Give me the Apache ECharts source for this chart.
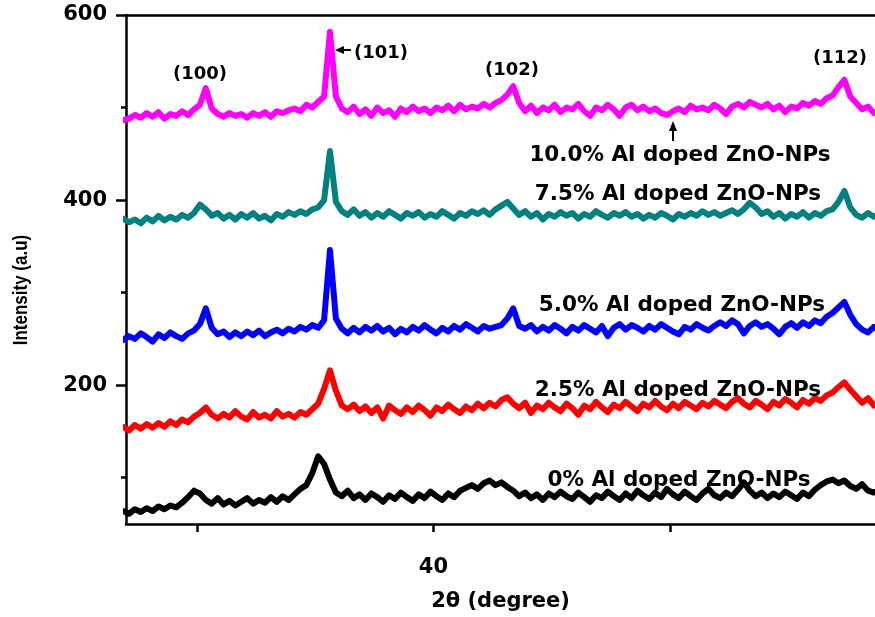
<!DOCTYPE html>
<html>
<head>
<meta charset="utf-8">
<script src="https://cdn.jsdelivr.net/npm/echarts@6/dist/echarts.min.js"></script>
<style>html,body{margin:0;padding:0;background:#fff}#c{width:875px;height:617px}</style>
</head>
<body>
<div id="c"></div>
<script>
// 2θ values (degree), step 0.25
const twoTheta = [];
for (let k = 0; k <= 128; k++) twoTheta.push(26.875 + 0.25 * k);

const seriesNames = ['10.0% Al doped ZnO-NPs','7.5% Al doped ZnO-NPs','5.0% Al doped ZnO-NPs','2.5% Al doped ZnO-NPs','0% Al doped ZnO-NPs'];
const seriesColors = ['#ff00ff','#008080','#0000ff','#ff0000','#000000'];

const al100 = [486,488,492,489,494,490,495,488,493,491,496,492,498,503,521,499,493,490,494,491,
493,489,494,491,495,490,496,494,497,499,496,503,500,506,512,582,512,499,495,501,
493,498,491,500,494,497,490,499,495,501,496,499,494,500,497,502,496,503,498,501,
499,504,500,505,508,514,523,505,496,502,494,500,497,503,495,500,498,504,496,491,
500,497,503,498,491,500,503,497,501,496,499,494,492,496,499,495,502,498,500,497,
503,499,493,501,504,500,506,503,500,504,498,502,495,501,499,505,502,507,504,510,
513,522,530,512,505,498,501,494,497];

const al75 = [380,376,379,375,381,377,383,378,382,379,384,381,386,395,390,383,386,380,384,379,
385,381,386,380,383,378,385,382,387,384,388,385,390,392,400,453,398,388,384,390,
383,387,381,386,382,388,384,380,386,383,387,381,385,382,388,384,380,386,383,388,
385,389,384,390,394,398,391,384,388,382,386,379,385,382,387,383,386,380,385,382,
388,384,381,386,383,387,382,385,380,384,381,386,383,379,385,382,386,383,388,384,
387,383,386,389,385,390,397,392,385,388,382,386,380,385,382,387,381,386,383,388,
390,398,410,392,384,381,386,382,385];

const al50 = [249,253,250,256,252,247,255,251,257,253,250,256,259,266,283,262,255,258,252,257,
253,258,254,259,253,257,260,256,261,258,263,260,265,262,270,346,272,261,256,262,
257,263,259,264,258,262,255,261,257,263,259,265,260,256,262,258,264,260,266,262,
258,264,261,263,265,272,283,264,261,265,258,263,259,265,261,256,263,259,265,261,
257,264,253,262,266,260,265,262,258,264,260,266,262,258,255,263,260,266,262,259,
264,268,264,270,266,256,264,268,263,266,261,255,263,267,262,268,264,270,267,274,
278,284,290,276,266,260,257,263,259];

const al25 = [155,151,157,153,158,154,159,155,161,157,163,160,166,170,176,168,164,169,165,172,
166,163,171,165,168,164,172,166,169,165,171,168,174,180,196,216,194,178,174,179,
172,177,170,176,164,178,173,169,176,171,178,173,167,176,172,179,174,170,177,173,
180,175,181,177,184,187,180,175,181,170,178,174,181,176,172,180,175,168,178,174,
182,176,171,179,175,182,177,172,180,176,183,177,173,180,175,182,178,174,181,177,
183,179,175,182,186,180,176,183,179,174,182,178,185,181,176,184,180,186,183,189,
192,198,203,195,188,181,186,178,182];

const al0 = [64,61,66,63,67,64,69,66,70,68,73,79,86,83,76,72,78,71,75,70,
74,78,72,76,73,79,74,80,76,82,88,92,105,123,115,98,84,80,86,78,
82,76,83,79,74,81,77,84,79,75,82,78,85,80,76,83,79,86,89,92,
88,94,97,92,95,90,86,80,84,78,82,76,83,79,85,80,77,84,79,74,
81,78,85,80,76,83,78,86,81,77,84,79,88,82,78,85,80,76,83,88,
81,78,84,80,87,95,86,80,84,78,83,79,85,81,77,84,80,87,92,96,
98,94,97,91,88,93,86,84,87];

const seriesValues = [al100, al75, al50, al25, al0];

const xTicks = [30, 40, 50];
const xLabels = [40];
const yMajor = [200, 400, 600];
const yMinor = [100, 300, 500];
const peakLabels = ['(100)', '(101)', '(102)', '(112)'];

const chart = echarts.init(document.getElementById('c'), null, {renderer: 'canvas'});
const FONT = "'DejaVu Sans', sans-serif";

const series = seriesValues.map((vals, i) => ({
  name: seriesNames[i],
  type: 'line',
  showSymbol: false,
  symbol: 'none',
  data: vals.map((v, k) => [twoTheta[k], v]),
  lineStyle: {color: seriesColors[i], width: 6, cap: 'round', join: 'round'},
  itemStyle: {color: seriesColors[i]},
  clip: true,
  animation: false,
  z: 3
}));

function txt(text, x, y, size, extra) {
  return Object.assign({
    type: 'text', x: x, y: y, z: 10,
    style: {text: text, fill: '#000', font: 'bold ' + size + 'px ' + FONT,
            align: 'center', verticalAlign: 'middle', textAlign: 'center', textVerticalAlign: 'middle'}
  }, extra || {});
}

const graphics = [
  txt(peakLabels[0], 200, 74, 18),
  txt(peakLabels[1], 381, 53, 18),
  txt(peakLabels[2], 512, 70, 18),
  txt(peakLabels[3], 840, 58, 18),
  txt(seriesNames[0], 680, 155, 21.5),
  txt(seriesNames[1], 678, 194, 21.5),
  txt(seriesNames[2], 682, 305, 21.5),
  txt(seriesNames[3], 678, 390, 21.5),
  txt(seriesNames[4], 679, 480, 21.5),
  {
    type: 'text', x: 21, y: 290, rotation: Math.PI / 2, scaleX: 0.85, z: 10,
    style: {text: 'Intensity (a.u)', fill: '#000', font: "bold 20px 'Liberation Sans', Arial, sans-serif",
            align: 'center', verticalAlign: 'middle', textAlign: 'center', textVerticalAlign: 'middle'}
  },
  // arrow to (101)
  {type: 'polyline', z: 10, shape: {points: [[342, 50], [351, 50]]}, style: {stroke: '#000', lineWidth: 2}},
  {type: 'polygon', z: 10, shape: {points: [[335, 50], [344, 46], [344, 54]]}, style: {fill: '#000'}},
  // arrow up to 10% trace
  {type: 'polyline', z: 10, shape: {points: [[673, 129], [673, 141]]}, style: {stroke: '#000', lineWidth: 2}},
  {type: 'polygon', z: 10, shape: {points: [[673, 121], [669, 131], [677, 131]]}, style: {fill: '#000'}}
];

const axisLabelStyle = {color: '#000', fontFamily: FONT, fontWeight: 'bold', fontSize: 21};

chart.setOption({
  animation: false,
  backgroundColor: '#fff',
  grid: {left: 126, right: 0, top: 15, bottom: 84, containLabel: false},
  xAxis: [{
    type: 'value', min: 27, max: 58.67, position: 'bottom',
    name: '2θ (degree)', nameLocation: 'middle', nameGap: 67,
    nameTextStyle: {color: '#000', fontFamily: FONT, fontWeight: 'bold', fontSize: 21},
    axisLine: {show: true, onZero: false, lineStyle: {color: '#000', width: 2.5}},
    axisTick: {show: true, inside: false, length: 8, customValues: xTicks, lineStyle: {color: '#000', width: 2.5}},
    axisLabel: Object.assign({show: true, margin: 33, customValues: xLabels}, axisLabelStyle),
    splitLine: {show: false}
  }, {
    type: 'value', min: 27, max: 58.67, position: 'top',
    axisLine: {show: true, onZero: false, lineStyle: {color: '#000', width: 2.5}},
    axisTick: {show: false}, axisLabel: {show: false}, splitLine: {show: false}
  }],
  yAxis: [{
    type: 'value', min: 50, max: 600, position: 'left',
    axisLine: {show: true, onZero: false, lineStyle: {color: '#000', width: 2.5}},
    axisTick: {show: true, inside: false, length: 10, customValues: yMajor, lineStyle: {color: '#000', width: 2.5}},
    axisLabel: Object.assign({show: true, margin: 19, customValues: yMajor}, axisLabelStyle),
    splitLine: {show: false}
  }, {
    type: 'value', min: 50, max: 600, position: 'left', offset: 0,
    axisLine: {show: false},
    axisTick: {show: true, inside: false, length: 5, customValues: yMinor, lineStyle: {color: '#000', width: 2.5}},
    axisLabel: {show: false}, splitLine: {show: false}
  }],
  series: series,
  graphic: graphics
});
</script>
</body>
</html>
